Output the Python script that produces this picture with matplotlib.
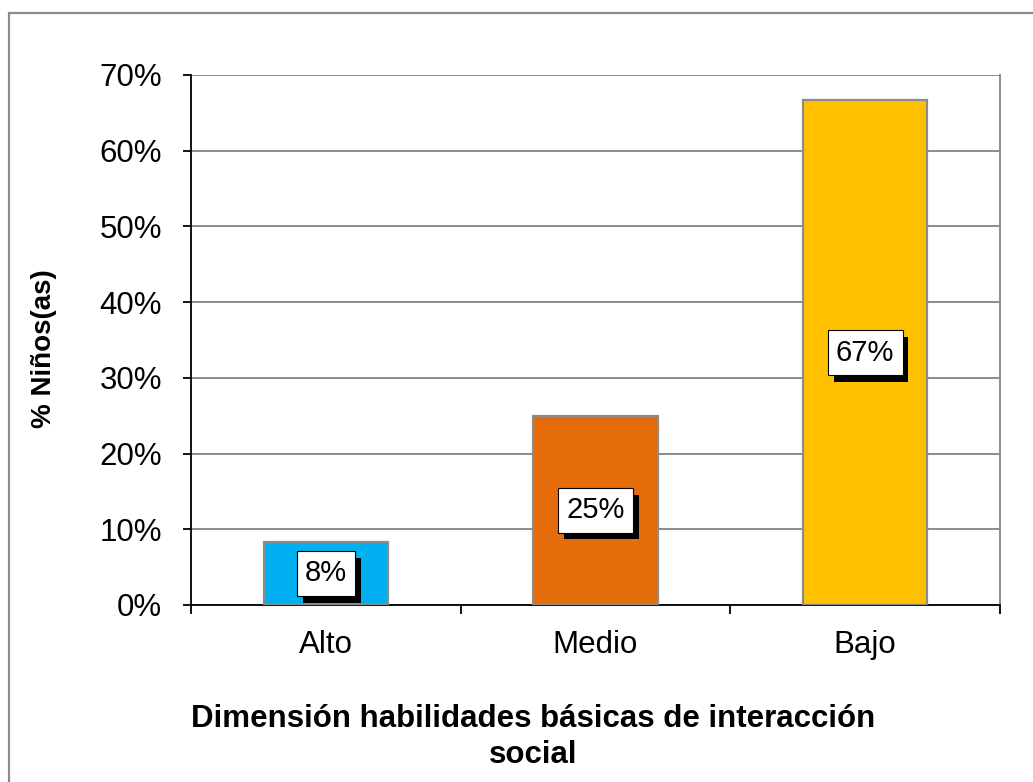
import matplotlib
matplotlib.use("Agg")
import matplotlib.pyplot as plt
import matplotlib.patheffects as pe
from matplotlib.patches import Rectangle
from matplotlib.ticker import PercentFormatter, MultipleLocator

plt.rcParams['font.family'] = ['Liberation Sans', 'DejaVu Sans']

# data
categories = ['Alto', 'Medio', 'Bajo']
values = [8.33, 25.0, 66.67]
labels = ['8%', '25%', '67%']
colors = ['#00B0F0', '#E46C0A', '#FFC000']

fig = plt.figure(figsize=(10.33, 7.82), dpi=100)

# outer chart border (runs off right and bottom of the picture)
fig.patches.append(Rectangle((9 / 1033, -0.05), 1.2, 1 - 13 / 782 + 0.05,
                             transform=fig.transFigure, fill=False,
                             edgecolor='#8c8c8c', linewidth=1.6))

ax = fig.add_axes([191 / 1033, 1 - 605 / 782, 809 / 1033, 530 / 782])

x = range(len(categories))
ax.bar(x, values, width=0.46, color=colors, edgecolor='#8c8c8c',
       linewidth=1.6, zorder=3)

ax.set_xlim(-0.5, 2.5)
ax.set_ylim(0, 70)
ax.yaxis.set_major_locator(MultipleLocator(10))
ax.yaxis.set_major_formatter(PercentFormatter(decimals=0))
ax.grid(axis='y', color='#8c8c8c', linewidth=1.4, zorder=0)

ax.set_xticks(list(x))
ax.set_xticklabels(categories)
ax.set_xticks([-0.5, 0.5, 1.5, 2.5], minor=True)
ax.tick_params(axis='x', which='major', length=0, pad=18, labelsize=22.5)
ax.tick_params(axis='x', which='minor', length=6.5, width=1.3, color='black')
ax.tick_params(axis='y', length=6, width=1.3, pad=15, labelsize=22.5)

ax.spines['top'].set_visible(False)
ax.spines['right'].set_color('#8c8c8c')
ax.spines['right'].set_linewidth(1.4)
ax.spines['left'].set_linewidth(1.3)
ax.spines['bottom'].set_linewidth(1.3)

ax.set_ylabel('% Niños(as)', fontsize=20, fontweight='bold')
ax.yaxis.set_label_coords(-0.166, 0.483)

fig.text(533 / 1033, 1 - 737 / 782,
         'Dimensión habilidades básicas de interacción\nsocial',
         ha='center', va='center', fontsize=22.5, fontweight='bold',
         linespacing=1.3)

# data labels: white box with a black drop shadow
for i, (v, lab) in enumerate(zip(values, labels)):
    t = ax.text(i, v / 2, lab, ha='center', va='center', fontsize=21,
                color='black', zorder=5,
                bbox=dict(boxstyle='square,pad=0.28', facecolor='white',
                          edgecolor='black', linewidth=0.8))
    t.get_bbox_patch().set_path_effects([
        pe.SimplePatchShadow(offset=(4.3, -5), shadow_rgbFace='black', alpha=1),
        pe.Normal()])

fig.savefig('out.png', dpi=100)
